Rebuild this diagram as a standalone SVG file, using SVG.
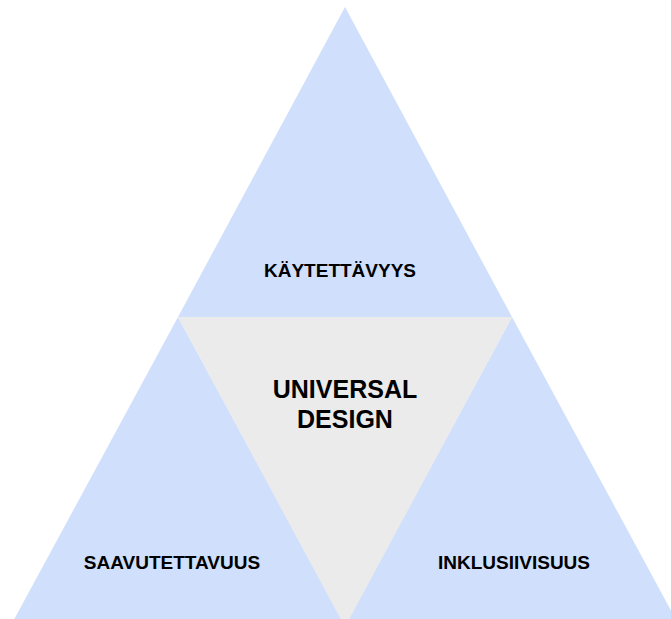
<svg xmlns="http://www.w3.org/2000/svg" width="671" height="619" viewBox="0 0 671 619">
<style>
.tri{fill:#cfdffc;stroke:none}
.mid{fill:#ebebeb;stroke:none}
.lbl{font-family:"Liberation Sans",Arial,sans-serif;font-weight:bold;font-size:19px;fill:#000;text-anchor:middle}
.big{font-size:25px}
</style>
<rect width="671" height="619" fill="#ffffff"/>
<g id="kaytettavyys">
<polygon class="tri" points="345,7 512,317 178,317"/>
<text class="lbl" x="340" y="277">KÄYTETTÄVYYS</text>
</g>
<g id="saavutettavuus">
<polygon class="tri" points="178,317 346,627 10,627"/>
<text class="lbl" x="172" y="569">SAAVUTETTAVUUS</text>
</g>
<g id="inklusiivisuus">
<polygon class="tri" points="512,317 680,627 344,627"/>
<text class="lbl" x="514" y="569">INKLUSIIVISUUS</text>
</g>
<g id="universal-design">
<polygon class="mid" points="178,317 512,317 345,627"/>
<text class="lbl big" x="345" y="398">UNIVERSAL</text>
<text class="lbl big" x="345" y="428">DESIGN</text>
</g>
<g id="connectors"></g>
</svg>
